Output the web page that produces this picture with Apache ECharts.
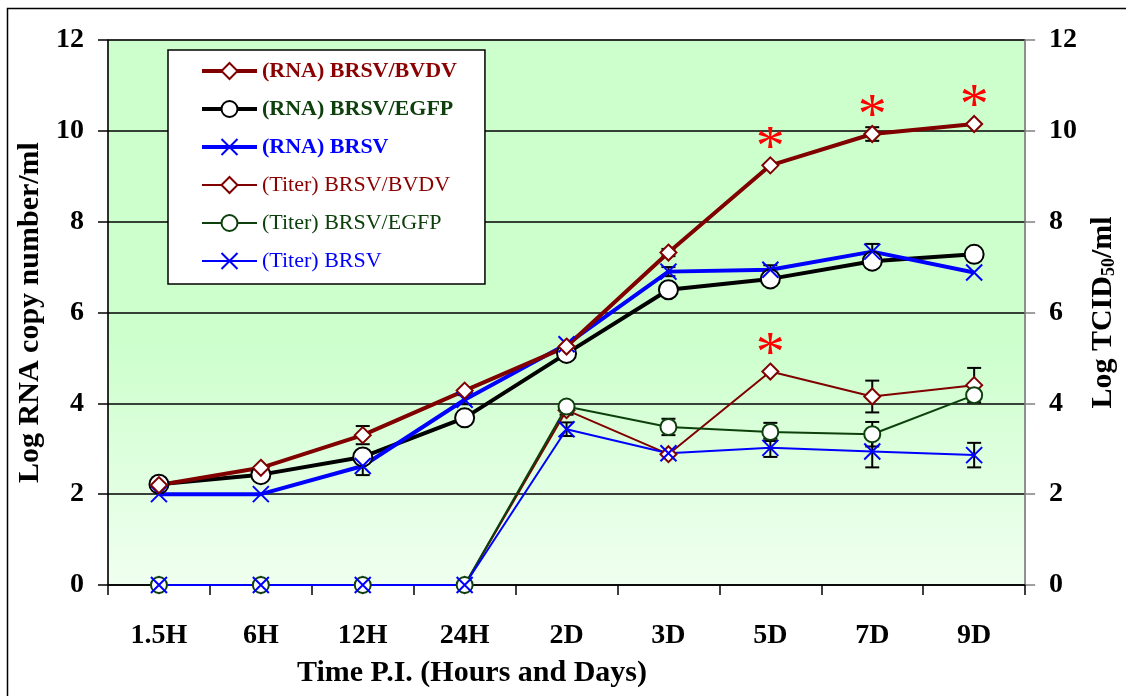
<!DOCTYPE html>
<html>
<head>
<meta charset="utf-8">
<script src="https://cdn.jsdelivr.net/npm/echarts@6/dist/echarts.min.js"></script>
<style>
  html, body { margin: 0; padding: 0; background: #ffffff; }
  #chart { width: 1126px; height: 696px; }
</style>
</head>
<body>
<div id="chart"></div>
<script>
// Time points after infection
const categories = ['1.5H', '6H', '12H', '24H', '2D', '3D', '5D', '7D', '9D'];
const yTicks = [0, 2, 4, 6, 8, 10, 12];

// Log RNA copy number/ml
const rnaBvdv = [2.2, 2.58, 3.3, 4.28, 5.25, 7.32, 9.24, 9.93, 10.15];
const rnaEgfp = [2.22, 2.43, 2.82, 3.68, 5.1, 6.5, 6.74, 7.13, 7.28];
const rnaBrsv = [2.0, 2.0, 2.62, 4.08, 5.3, 6.9, 6.94, 7.34, 6.88];

// Log TCID50/ml
const titerBvdv = [0, 0, 0, 0, 3.85, 2.88, 4.7, 4.15, 4.4];
const titerEgfp = [0, 0, 0, 0, 3.93, 3.48, 3.37, 3.32, 4.18];
const titerBrsv = [0, 0, 0, 0, 3.43, 2.9, 3.02, 2.94, 2.86];

// Standard deviations (null = no bar)
const rnaBvdvErr = [null, null, 0.2, null, null, 0.08, null, 0.15, null];
const rnaEgfpErr = [null, null, null, 0.1, 0.1, null, null, null, null];
const rnaBrsvErr = [null, null, 0.2, 0.1, null, 0.1, 0.1, 0.17, null];
const titerBvdvErr = [null, null, null, null, 0.1, null, null, 0.35, 0.38];
const titerEgfpErr = [null, null, null, null, 0.1, 0.18, 0.2, 0.27, null];
const titerBrsvErr = [null, null, null, null, 0.15, null, 0.2, 0.35, 0.27];

// Significant time points marked with *
const starredRnaBvdv = ['5D', '7D', '9D'];
const starredTiterBvdv = ['5D'];

const FONT = '"Liberation Serif", "Times New Roman", serif';
const MAROON = '#800000';
const DKGREEN = '#0d400d';
const BLUE = '#0000ff';
const CROSS = 'path://M0,0L10,10M10,0L0,10';

function withStars(values, starred) {
  return values.map((v, i) => starred.indexOf(categories[i]) >= 0
    ? { value: v, label: { show: true } }
    : v);
}

function errorData(values, errs) {
  const out = [];
  errs.forEach((e, i) => {
    if (e !== null) out.push([i, values[i] - e, values[i] + e]);
  });
  return out;
}

function errorSeries(values, errs, yAxisIndex) {
  return {
    type: 'custom',
    yAxisIndex: yAxisIndex,
    z: 1,
    silent: true,
    encode: { x: 0, y: [1, 2] },
    data: errorData(values, errs),
    renderItem: function (params, api) {
      const i = api.value(0);
      const lo = api.coord([i, api.value(1)]);
      const hi = api.coord([i, api.value(2)]);
      const hw = 7;
      const st = { stroke: '#000000', lineWidth: 2 };
      return {
        type: 'group',
        children: [
          { type: 'line', shape: { x1: lo[0], y1: lo[1], x2: hi[0], y2: hi[1] }, style: st },
          { type: 'line', shape: { x1: lo[0] - hw, y1: lo[1], x2: lo[0] + hw, y2: lo[1] }, style: st },
          { type: 'line', shape: { x1: hi[0] - hw, y1: hi[1], x2: hi[0] + hw, y2: hi[1] }, style: st }
        ]
      };
    }
  };
}

const starLabel = {
  show: false,
  formatter: '*',
  position: 'top',
  distance: 2,
  offset: [0, 24],
  color: '#ff0000',
  fontSize: 58,
  fontFamily: FONT
};

function lineSeries(name, data, color, width, symbol, size, border, yAxisIndex) {
  return {
    name: name,
    type: 'line',
    yAxisIndex: yAxisIndex,
    data: data,
    z: 3,
    symbol: symbol,
    symbolSize: size,
    showSymbol: true,
    showAllSymbol: true,
    lineStyle: { color: color, width: width },
    itemStyle: symbol === CROSS
      ? { color: color, borderColor: color, borderWidth: 2 }
      : { color: '#ffffff', borderColor: border, borderWidth: 2 },
    label: starLabel,
    emphasis: { disabled: true }
  };
}

const axisNameStyle = { fontFamily: FONT, fontWeight: 'bold', fontSize: 30, color: '#000000' };
const tickLabelStyle = { fontFamily: FONT, fontWeight: 'bold', fontSize: 28, color: '#000000' };

const chart = echarts.init(document.getElementById('chart'), null, { renderer: 'canvas' });

chart.setOption({
  animation: false,
  backgroundColor: '#ffffff',
  grid: {
    left: 108, right: 88, top: 40, bottom: 111,
    show: true,
    borderColor: '#808080',
    borderWidth: 1,
    backgroundColor: {
      type: 'linear', x: 0, y: 0, x2: 0, y2: 1,
      colorStops: [
        { offset: 0, color: '#ccffcc' },
        { offset: 0.55, color: '#ccffcc' },
        { offset: 1, color: '#f0fff0' }
      ]
    }
  },
  legend: {
    orient: 'vertical',
    left: 168,
    top: 50,
    padding: [10, 28, 12, 32],
    backgroundColor: '#ffffff',
    borderColor: '#000000',
    borderWidth: 1.5,
    borderRadius: 0,
    itemWidth: 55,
    itemHeight: 20,
    itemGap: 16,
    selectedMode: false,
    textStyle: { fontFamily: FONT, fontSize: 22, lineHeight: 20 },
    data: [
      { name: '(RNA) BRSV/BVDV', lineStyle: { width: 4 }, textStyle: { color: '#8b0000', fontWeight: 'bold' } },
      { name: '(RNA) BRSV/EGFP', lineStyle: { width: 4 }, textStyle: { color: DKGREEN, fontWeight: 'bold' } },
      { name: '(RNA) BRSV', lineStyle: { width: 4 }, textStyle: { color: BLUE, fontWeight: 'bold' } },
      { name: '(Titer) BRSV/BVDV', lineStyle: { width: 2 }, textStyle: { color: '#8b0000' } },
      { name: '(Titer) BRSV/EGFP', lineStyle: { width: 2 }, textStyle: { color: DKGREEN } },
      { name: '(Titer) BRSV', lineStyle: { width: 2 }, textStyle: { color: BLUE } }
    ]
  },
  xAxis: {
    type: 'category',
    data: categories,
    boundaryGap: true,
    axisLine: { lineStyle: { color: '#000000', width: 1.5 } },
    axisTick: { show: true, length: 10, lineStyle: { color: '#000000', width: 1.5 } },
    axisLabel: Object.assign({ margin: 37 }, tickLabelStyle),
    splitLine: { show: false }
  },
  yAxis: [
    {
      type: 'value',
      min: yTicks[0], max: yTicks[yTicks.length - 1], interval: 2,
      name: 'Log RNA copy number/ml',
      nameLocation: 'middle',
      nameRotate: 90,
      nameGap: 54,
      nameTextStyle: axisNameStyle,
      axisLine: { show: true, lineStyle: { color: '#000000', width: 1.5 } },
      axisTick: { show: true, length: 10, lineStyle: { color: '#000000', width: 1.5 } },
      axisLabel: Object.assign({ margin: 24 }, tickLabelStyle),
      splitLine: { show: true, lineStyle: { color: '#000000', width: 1.5 } }
    },
    {
      type: 'value',
      position: 'right',
      min: yTicks[0], max: yTicks[yTicks.length - 1], interval: 2,
      name: 'Log TCID{sub|50}/ml',
      nameLocation: 'middle',
      nameRotate: 90,
      nameGap: 58,
      nameTextStyle: Object.assign({
        rich: {
          sub: { fontFamily: FONT, fontWeight: 'bold', fontSize: 18, verticalAlign: 'bottom', lineHeight: 18 }
        }
      }, axisNameStyle),
      axisLine: { show: true, lineStyle: { color: '#808080', width: 1.5 } },
      axisTick: { show: true, length: 10, lineStyle: { color: '#808080', width: 1.5 } },
      axisLabel: Object.assign({ margin: 24 }, tickLabelStyle),
      splitLine: { show: false }
    }
  ],
  graphic: [
    {
      type: 'rect',
      shape: { x: 7.5, y: 8.5, width: 1130, height: 700 },
      style: { fill: 'none', stroke: '#000000', lineWidth: 1.5 },
      silent: true,
      z: -10
    },
    {
      type: 'text',
      x: 472, y: 673,
      style: {
        text: 'Time P.I. (Hours and Days)',
        font: 'bold 30px ' + FONT,
        fill: '#000000',
        textAlign: 'center',
        textVerticalAlign: 'middle'
      },
      silent: true
    }
  ],
  series: [
    errorSeries(titerBvdv, titerBvdvErr, 1),
    errorSeries(titerEgfp, titerEgfpErr, 1),
    errorSeries(titerBrsv, titerBrsvErr, 1),
    errorSeries(rnaBvdv, rnaBvdvErr, 0),
    errorSeries(rnaEgfp, rnaEgfpErr, 0),
    errorSeries(rnaBrsv, rnaBrsvErr, 0),
    lineSeries('(Titer) BRSV/BVDV', withStars(titerBvdv, starredTiterBvdv), MAROON, 2, 'diamond', 16, MAROON, 1),
    lineSeries('(Titer) BRSV/EGFP', titerEgfp, DKGREEN, 2, 'circle', 16, DKGREEN, 1),
    lineSeries('(Titer) BRSV', titerBrsv, BLUE, 2, CROSS, 16, BLUE, 1),
    lineSeries('(RNA) BRSV/EGFP', rnaEgfp, '#000000', 4, 'circle', 19, '#000000', 0),
    lineSeries('(RNA) BRSV', rnaBrsv, BLUE, 4, CROSS, 16, BLUE, 0),
    lineSeries('(RNA) BRSV/BVDV', withStars(rnaBvdv, starredRnaBvdv), MAROON, 4, 'diamond', 16, MAROON, 0)
  ]
});
</script>
</body>
</html>
